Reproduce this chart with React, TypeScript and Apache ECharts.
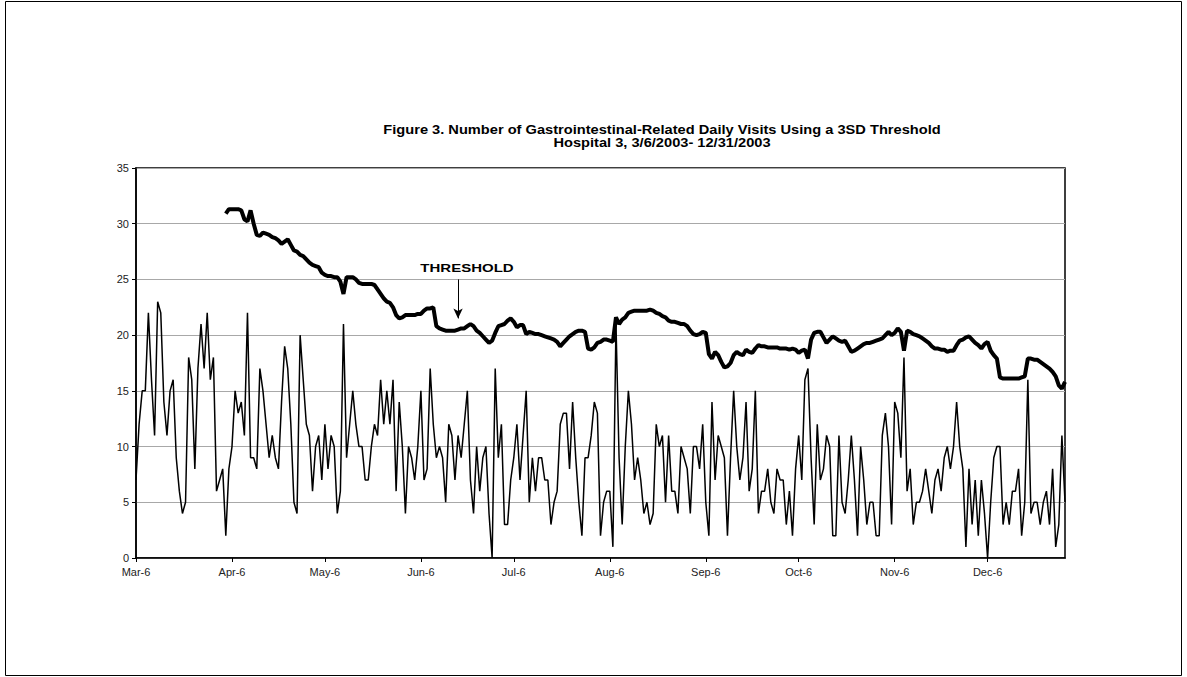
import React, { useEffect, useRef } from "react";
import * as echarts from "echarts";

// ---- Categories: daily dates 3/6/2003 .. 12/31/2003 ----
const MONTHS = ["Jan", "Feb", "Mar", "Apr", "May", "Jun", "Jul", "Aug", "Sep", "Oct", "Nov", "Dec"];
const START_YEAR = 2003;
const START_MONTH = 2; // March
const START_DAY = 6;
const DAY_COUNT = 301;

// ---- Daily visits, per calendar month ----
const visitsMar = [7, 12, 15, 15, 22, 16, 11, 23, 22, 14, 11, 15, 16, 9, 6, 4, 5, 18, 16, 8, 17, 21, 17, 22, 16, 18];
const visitsApr = [6, 7, 8, 2, 8, 10, 15, 13, 14, 11, 22, 9, 9, 8, 17, 15, 12, 9, 11, 9, 8, 14, 19, 17, 12, 5, 4, 20, 16, 12];
const visitsMay = [11, 6, 10, 11, 7, 12, 8, 11, 10, 4, 6, 21, 9, 12, 15, 12, 10, 10, 7, 7, 10, 12, 11, 16, 12, 15, 12, 16, 6, 14, 10];
const visitsJun = [4, 10, 9, 7, 10, 15, 7, 8, 17, 12, 9, 10, 9, 5, 12, 11, 7, 11, 9, 12, 15, 7, 4, 10, 6, 9, 10, 4, 0, 17];
const visitsJul = [9, 12, 3, 3, 7, 9, 12, 7, 11, 15, 5, 9, 6, 9, 9, 7, 7, 3, 5, 6, 12, 13, 13, 8, 14, 9, 5, 2, 9, 9, 11];
const visitsAug = [14, 13, 2, 5, 6, 6, 1, 21, 9, 3, 10, 15, 12, 7, 9, 7, 4, 5, 3, 4, 12, 10, 11, 5, 11, 6, 6, 4, 10, 9, 8];
const visitsSep = [4, 10, 10, 8, 12, 5, 2, 14, 7, 11, 10, 9, 2, 9, 15, 10, 7, 9, 14, 6, 8, 15, 4, 6, 6, 8, 5, 4, 8, 7];
const visitsOct = [7, 3, 6, 2, 8, 11, 7, 16, 17, 9, 3, 12, 7, 8, 11, 10, 2, 2, 11, 5, 4, 7, 11, 7, 2, 10, 7, 3, 5, 5, 2];
const visitsNov = [2, 11, 13, 10, 3, 14, 13, 9, 18, 6, 8, 3, 5, 5, 6, 8, 6, 4, 7, 8, 6, 9, 10, 8, 10, 14, 10, 8, 1, 8];
const visitsDec = [3, 7, 2, 7, 4, 0, 5, 9, 10, 10, 3, 5, 3, 6, 6, 8, 2, 5, 16, 4, 5, 5, 3, 5, 6, 3, 8, 1, 3, 11, 5];

// ---- 3SD threshold, starting Apr 4 (day index 29) ----
const THRESHOLD_START_INDEX = 29;
const thrApr = [30.9, 31.3, 31.3, 31.3, 31.3, 31.2, 30.4, 30.2, 31.2, 30.0, 29.0, 28.9, 29.2, 29.1, 29.0, 28.8, 28.7, 28.5, 28.2, 28.4, 28.6, 28.1, 27.6, 27.5, 27.2, 27.1, 26.8];
const thrMay = [26.5, 26.3, 26.2, 26.1, 25.6, 25.4, 25.3, 25.3, 25.2, 25.2, 24.8, 23.7, 25.2, 25.2, 25.2, 25.0, 24.7, 24.6, 24.6, 24.6, 24.6, 24.5, 24.1, 23.7, 23.3, 23.0, 22.9, 22.5, 21.8, 21.5, 21.6];
const thrJun = [21.8, 21.8, 21.8, 21.8, 21.9, 21.9, 22.2, 22.4, 22.4, 22.5, 20.8, 20.6, 20.5, 20.4, 20.4, 20.4, 20.4, 20.5, 20.6, 20.6, 20.8, 21.0, 20.8, 20.4, 20.2, 19.9, 19.6, 19.3, 19.5, 20.2];
const thrJul = [20.8, 20.9, 21.0, 21.3, 21.5, 21.2, 20.7, 20.9, 20.9, 20.1, 20.3, 20.2, 20.1, 20.1, 20.0, 19.9, 19.8, 19.7, 19.6, 19.4, 19.0, 19.3, 19.6, 19.9, 20.1, 20.3, 20.4, 20.4, 20.3, 18.8, 18.7];
const thrAug = [18.9, 19.3, 19.4, 19.6, 19.6, 19.5, 19.4, 21.6, 21.0, 21.4, 21.6, 22.0, 22.1, 22.2, 22.2, 22.2, 22.2, 22.2, 22.3, 22.2, 22.0, 21.9, 21.7, 21.6, 21.3, 21.2, 21.2, 21.1, 21.0, 21.0, 20.8];
const thrSep = [20.4, 20.1, 20.0, 20.1, 20.3, 20.2, 18.3, 17.9, 18.5, 18.2, 17.6, 17.1, 17.2, 17.5, 18.2, 18.5, 18.3, 18.2, 18.7, 18.5, 18.4, 18.8, 19.1, 19.0, 19.0, 18.9, 18.9, 18.9, 18.9, 18.8];
const thrOct = [18.8, 18.8, 18.7, 18.8, 18.7, 18.4, 18.6, 18.7, 17.9, 19.6, 20.2, 20.3, 20.3, 19.8, 19.3, 19.6, 19.9, 19.7, 19.5, 19.4, 19.5, 19.0, 18.5, 18.6, 18.8, 19.0, 19.2, 19.3, 19.3, 19.4, 19.5];
const thrNov = [19.6, 19.7, 20.0, 20.3, 20.0, 20.2, 20.6, 20.3, 18.6, 20.4, 20.3, 20.1, 20.0, 19.9, 19.7, 19.5, 19.3, 19.0, 18.8, 18.8, 18.7, 18.7, 18.5, 18.6, 18.6, 19.1, 19.5, 19.6, 19.8, 19.9];
const thrDec = [19.6, 19.3, 19.1, 18.8, 19.2, 19.4, 18.6, 18.2, 17.9, 16.2, 16.1, 16.1, 16.1, 16.1, 16.1, 16.1, 16.2, 16.3, 17.9, 17.9, 17.8, 17.8, 17.6, 17.4, 17.2, 17.0, 16.7, 16.3, 15.5, 15.2, 15.8];

// ---- Axis / text ----
const Y_MIN = 0;
const Y_MAX = 35;
const Y_STEP = 5;
const TITLE_LINE1 = "Figure 3. Number of Gastrointestinal-Related Daily Visits Using a 3SD Threshold";
const TITLE_LINE2 = "Hospital 3, 3/6/2003- 12/31/2003";
const ANNOTATION = "THRESHOLD";
const ARROW_DAY_INDEX = 104;
const ARROW_FROM = 25.0;
const ARROW_TO = 21.5;

function buildCategories(): string[] {
  const out: string[] = [];
  for (let i = 0; i < DAY_COUNT; i++) {
    const d = new Date(START_YEAR, START_MONTH, START_DAY + i);
    out.push(`${MONTHS[d.getMonth()]}-${d.getDate()}`);
  }
  return out;
}

export default function App() {
  const ref = useRef<HTMLDivElement>(null);

  useEffect(() => {
    if (!ref.current) return;
    const chart = echarts.init(ref.current, undefined, { renderer: "svg" });
    const categories = buildCategories();
    const visits = [
      ...visitsMar, ...visitsApr, ...visitsMay, ...visitsJun, ...visitsJul,
      ...visitsAug, ...visitsSep, ...visitsOct, ...visitsNov, ...visitsDec,
    ];
    const thrValues = [...thrApr, ...thrMay, ...thrJun, ...thrJul, ...thrAug, ...thrSep, ...thrOct, ...thrNov, ...thrDec];
    const threshold: (number | null)[] = [];
    for (let i = 0; i < THRESHOLD_START_INDEX; i++) threshold.push(null);
    threshold.push(...thrValues);

    const isMonthTick = (idx: number, value: string) => /-6$/.test(value) && !/-\d6$/.test(value);
    const font = "Liberation Sans";

    chart.setOption({
      animation: false,
      backgroundColor: "#fff",
      grid: {
        left: 136,
        right: 122,
        top: 168,
        bottom: 119,
        show: true,
        borderColor: "#000",
        borderWidth: 1.5,
        backgroundColor: "transparent",
      },
      xAxis: {
        type: "category",
        data: categories,
        boundaryGap: false,
        axisLine: { show: true, lineStyle: { color: "#000", width: 1.5 } },
        axisTick: {
          show: true,
          interval: (idx: number, value: string) => isMonthTick(idx, value),
          length: 4,
          lineStyle: { color: "#000", width: 1 },
        },
        axisLabel: {
          interval: (idx: number, value: string) => isMonthTick(idx, value),
          color: "#222",
          fontFamily: font,
          fontSize: 11,
          margin: 8,
        },
        splitLine: { show: false },
      },
      yAxis: {
        type: "value",
        min: Y_MIN,
        max: Y_MAX,
        interval: Y_STEP,
        axisLine: { show: true, lineStyle: { color: "#000", width: 1.5 } },
        axisTick: { show: true, length: 4, lineStyle: { color: "#000" } },
        axisLabel: { color: "#222", fontFamily: font, fontSize: 11, margin: 7 },
        splitLine: { show: true, lineStyle: { color: "#a8a8a8", width: 1 } },
      },
      series: [
        {
          name: "Visits",
          type: "line",
          data: visits,
          showSymbol: false,
          symbol: "none",
          lineStyle: { color: "#000", width: 1.5 },
          z: 2,
        },
        {
          name: "Threshold",
          type: "line",
          data: threshold,
          showSymbol: false,
          symbol: "none",
          connectNulls: false,
          lineStyle: { color: "#000", width: 4 },
          z: 3,
          markLine: {
            silent: true,
            symbol: ["none", "arrow"],
            symbolSize: [7, 10],
            label: { show: false },
            lineStyle: { color: "#000", width: 1, type: "solid" },
            data: [
              [
                { coord: [categories[ARROW_DAY_INDEX], ARROW_FROM] },
                { coord: [categories[ARROW_DAY_INDEX], ARROW_TO] },
              ],
            ],
          },
        },
      ],
      graphic: [
        {
          type: "rect",
          shape: { x: 5.5, y: 1.5, width: 1176, height: 674 },
          style: { fill: "none", stroke: "#000", lineWidth: 1 },
          silent: true,
        },
        {
          type: "text",
          x: 662,
          y: 130,
          scaleX: 1.22,
          style: {
            text: TITLE_LINE1,
            textAlign: "center",
            textVerticalAlign: "middle",
            font: `bold 12px "${font}"`,
            fill: "#000",
          },
        },
        {
          type: "text",
          x: 662,
          y: 143,
          scaleX: 1.22,
          style: {
            text: TITLE_LINE2,
            textAlign: "center",
            textVerticalAlign: "middle",
            font: `bold 12px "${font}"`,
            fill: "#000",
          },
        },
        {
          type: "text",
          x: 467,
          y: 268,
          scaleX: 1.5,
          style: {
            text: ANNOTATION,
            textAlign: "center",
            textVerticalAlign: "middle",
            font: `bold 10px "${font}"`,
            fill: "#000",
          },
        },
      ],
    });

    return () => chart.dispose();
  }, []);

  return (
    <div
      ref={ref}
      style={{ position: "absolute", left: 0, top: 0, width: 1187, height: 677 }}
    />
  );
}
